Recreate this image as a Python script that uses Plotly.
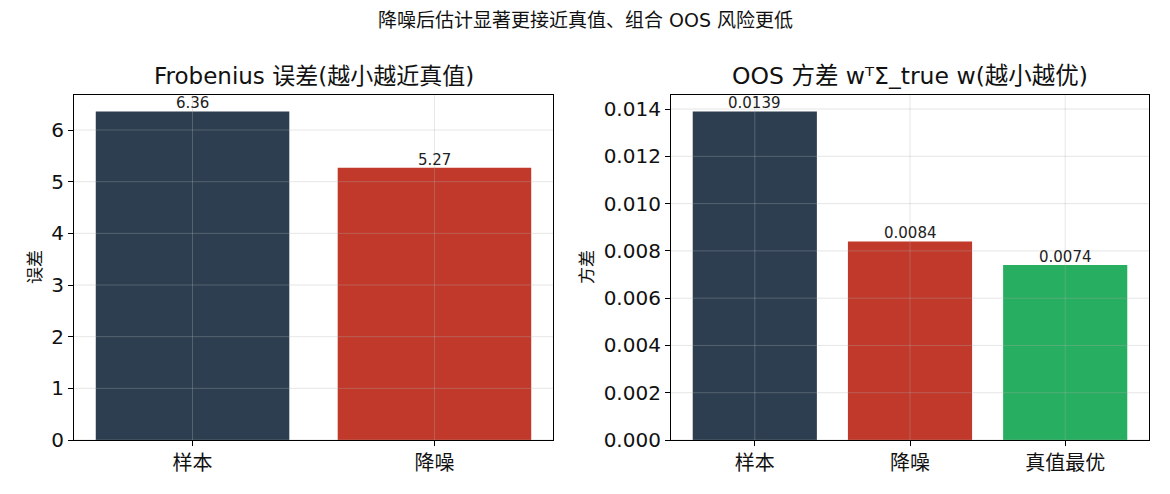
import plotly.graph_objects as go

# Data
cats_left = ["样本", "降噪"]
frob_err = [6.36, 5.27]
cats_right = ["样本", "降噪", "真值最优"]
oos_var = [0.0139, 0.0084, 0.0074]
colors = ["#2c3e50", "#c0392b", "#27ae60"]
yticks_left = [0, 1, 2, 3, 4, 5, 6]
yticks_right = [0.000, 0.002, 0.004, 0.006, 0.008, 0.010, 0.012, 0.014]

W, H = 1170, 494
CJK = "Noto Sans CJK SC"
FONT = "DejaVu Sans, Noto Sans CJK SC"

def px_x(p):
    return p / W

def px_y(p):
    return 1 - p / H

fig = go.Figure()

fig.add_trace(go.Bar(
    x=list(range(len(cats_left))), y=frob_err, width=0.8,
    marker=dict(color=colors[:2], line=dict(width=0)),
    xaxis="x", yaxis="y", showlegend=False,
))
fig.add_trace(go.Bar(
    x=list(range(len(cats_right))), y=oos_var, width=0.8,
    marker=dict(color=colors, line=dict(width=0)),
    xaxis="x2", yaxis="y2", showlegend=False,
))

common_ax = dict(
    showline=True, linecolor="black", linewidth=1.2, mirror=True,
    ticks="outside", ticklen=5, tickcolor="black", tickwidth=1,
    showgrid=False, zeroline=False, layer="above traces",
)

fig.update_layout(
    width=W, height=H, margin=dict(l=0, r=0, t=0, b=0, autoexpand=False),
    paper_bgcolor="white", plot_bgcolor="white",
    font=dict(family=FONT, color="#111"),
    xaxis=dict(domain=[px_x(74), px_x(553)], range=[-0.49, 1.49],
               tickvals=list(range(len(cats_left))), ticktext=cats_left, anchor="y",
               tickfont=dict(size=20, color="#111", family=CJK), **common_ax),
    yaxis=dict(domain=[px_y(440), px_y(95)], range=[0, 6.678],
               tickvals=yticks_left, ticktext=[str(v) for v in yticks_left],
               anchor="x", tickfont=dict(size=20, color="#111"), **common_ax),
    xaxis2=dict(domain=[px_x(671), px_x(1149)], range=[-0.54, 2.54],
                tickvals=list(range(len(cats_right))), ticktext=cats_right, anchor="y2",
                tickfont=dict(size=20, color="#111", family=CJK), **common_ax),
    yaxis2=dict(domain=[px_y(440), px_y(95)], range=[0, 0.014595],
                tickvals=yticks_right, ticktext=[f"{v:.3f}" for v in yticks_right],
                anchor="x2", tickfont=dict(size=20, color="#111"), **common_ax),
)

# grid lines drawn over the bars (as in the reference)
grid = "rgba(176,176,176,0.32)"
shapes = []
for xr, yr, yt, nx in (("x", "y", yticks_left, len(cats_left)),
                       ("x2", "y2", yticks_right, len(cats_right))):
    for v in yt:
        shapes.append(dict(type="line", xref=f"{xr} domain", yref=yr, x0=0, x1=1,
                           y0=v, y1=v, layer="above", line=dict(color=grid, width=1)))
    for i in range(nx):
        shapes.append(dict(type="line", xref=xr, yref=f"{yr} domain", x0=i, x1=i,
                           y0=0, y1=1, layer="above", line=dict(color=grid, width=1)))
fig.update_layout(shapes=shapes)

def ann(text, x, y, size, angle=0, family=FONT):
    return dict(text=text, x=px_x(x), y=px_y(y), xref="paper", yref="paper",
                xanchor="center", yanchor="middle", showarrow=False,
                textangle=angle, font=dict(size=size, color="#111", family=family))

annotations = [
    ann("降噪后估计显著更接近真值、组合 OOS 风险更低", 585, 20, 19),
    ann("Frobenius 误差(越小越近真值)", 313.5, 76, 23),
    ann("OOS 方差 wᵀΣ_true w(越小越优)", 910, 76, 23.5),
    ann("误差", 33, 267, 17, -90, CJK),
    ann("方差", 585, 267, 17, -90, CJK),
]
# bar value labels
for xr, yr, vals, fmt in (("x", "y", frob_err, "{:.2f}"), ("x2", "y2", oos_var, "{:.4f}")):
    for i, v in enumerate(vals):
        annotations.append(dict(text=fmt.format(v), x=i, y=v, xref=xr, yref=yr,
                                xanchor="center", yanchor="bottom", yshift=-3,
                                showarrow=False, font=dict(size=15, color="#222", family=FONT)))
fig.update_layout(annotations=annotations)

fig.write_html("out.html")
